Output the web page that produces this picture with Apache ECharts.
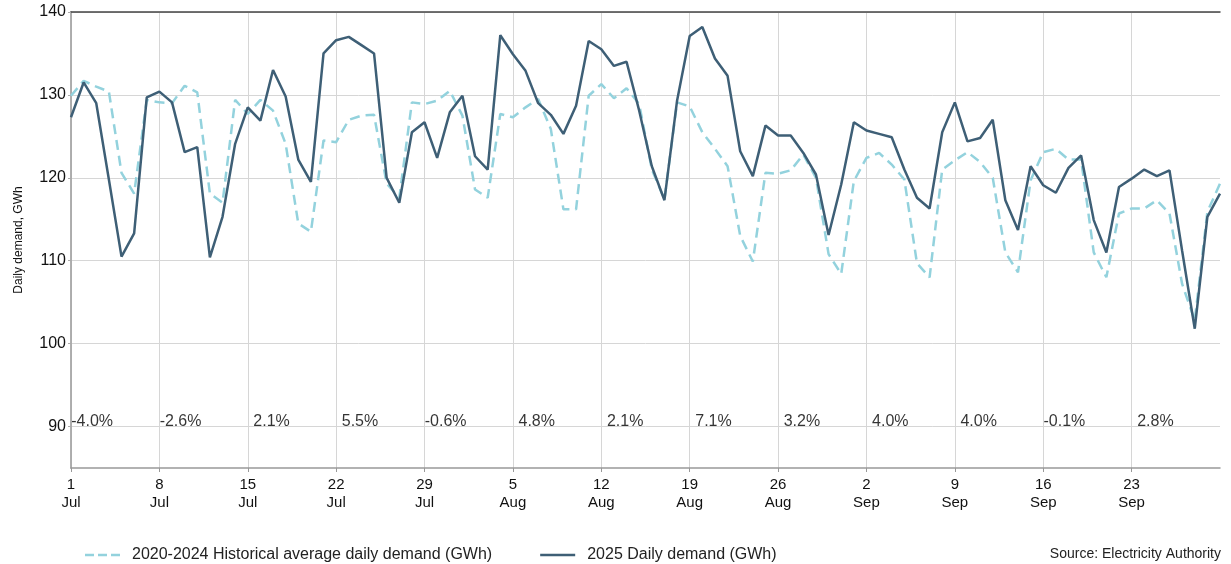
<!DOCTYPE html>
<html>
<head>
<meta charset="utf-8">
<script src="https://cdn.jsdelivr.net/npm/echarts@6/dist/echarts.min.js"></script>
<style>
  html, body { margin: 0; padding: 0; background: #fff; }
  #chart { width: 1231px; height: 564px; }
</style>
</head>
<body>
<div id="chart"></div>
<script>
// daily values, 1 Jul .. 30 Sep (index = day offset from 1 Jul)
var histAvg = [
  129.9, 131.7, 131.0, 130.4, 120.6, 118.1, 129.4, 129.1, 129.0, 131.1,
  130.3, 118.1, 117.0, 129.4, 127.7, 129.4, 128.1, 124.1, 114.5, 113.5,
  124.5, 124.3, 127.0, 127.5, 127.6, 119.3, 117.6, 129.1, 128.9, 129.3,
  130.5, 127.5, 118.6, 117.6, 127.7, 127.3, 128.5, 129.5, 125.9, 116.2,
  116.2, 129.9, 131.3, 129.6, 130.8, 128.9, 121.0, 117.4, 129.1, 128.6,
  125.5, 123.5, 121.4, 113.0, 109.9, 120.6, 120.5, 120.9, 122.8, 120.0,
  110.8, 108.4, 119.6, 122.4, 123.0, 121.6, 119.8, 109.7, 108.0, 121.0,
  122.1, 123.1, 121.9, 120.0, 111.0, 108.6, 119.7, 123.1, 123.5, 122.2,
  122.2, 111.0, 108.0, 115.7, 116.3, 116.3, 117.3, 115.7, 107.2, 102.8,
  115.9, 119.3
];
var demand2025 = [
  127.3, 131.5, 129.0, 119.8, 110.5, 113.3, 129.7, 130.4, 129.1, 123.1,
  123.7, 110.4, 115.3, 124.1, 128.5, 126.9, 133.0, 129.8, 122.2, 119.5,
  135.0, 136.6, 137.0, 136.0, 135.0, 120.0, 117.0, 125.5, 126.7, 122.4,
  127.9, 129.9, 122.6, 121.0, 137.2, 134.9, 132.9, 129.0, 127.6, 125.3,
  128.7, 136.5, 135.5, 133.5, 134.0, 128.1, 121.4, 117.3, 129.3, 137.1,
  138.2, 134.4, 132.3, 123.2, 120.2, 126.3, 125.1, 125.1, 123.0, 120.4,
  113.1, 119.2, 126.7, 125.7, 125.3, 124.9, 121.0, 117.6, 116.3, 125.5,
  129.1, 124.4, 124.8, 127.0, 117.3, 113.7, 121.4, 119.1, 118.2, 121.2,
  122.7, 114.9, 111.0, 118.9, 119.9, 121.0, 120.2, 120.9, 111.2, 101.8,
  115.3, 118.1
];
var weekStarts = [0, 7, 14, 21, 28, 35, 42, 49, 56, 63, 70, 77, 84];
var xTickLabels = ['1\nJul', '8\nJul', '15\nJul', '22\nJul', '29\nJul', '5\nAug', '12\nAug',
  '19\nAug', '26\nAug', '2\nSep', '9\nSep', '16\nSep', '23\nSep'];
var weekChange = ['-4.0%', '-2.6%', '2.1%', '5.5%', '-0.6%', '4.8%', '2.1%',
  '7.1%', '3.2%', '4.0%', '4.0%', '-0.1%', '2.8%'];
var yTicks = [90, 100, 110, 120, 130, 140];

var FONT = "'Liberation Sans', Arial, Helvetica, sans-serif";
var HIST_COLOR = '#93d2dd';
var CUR_COLOR = '#3e5f76';

var chart = echarts.init(document.getElementById('chart'));
var option = {
  backgroundColor: '#fff',
  animation: false,
  textStyle: { fontFamily: FONT },
  grid: { left: 71, right: 11, top: 12, bottom: 96 },
  legend: {
    left: 85,
    top: 547,
    padding: 0,
    itemWidth: 35,
    itemHeight: 3,
    itemGap: 48,
    textStyle: { fontSize: 16, color: '#222', fontFamily: FONT, padding: [0, 0, 0, 7] },
    data: [
      // dashed / solid line samples, like the reference key
      { name: '2020-2024 Historical average daily demand (GWh)', icon: 'path://M0,0h9v2.5h-9z M13,0h9v2.5h-9z M26,0h9v2.5h-9z', itemStyle: { color: HIST_COLOR } },
      { name: '2025 Daily demand (GWh)', icon: 'path://M0,0h35v2.5h-35z', itemStyle: { color: CUR_COLOR } }
    ]
  },
  graphic: [{
    type: 'text',
    right: 10,
    top: 547,
    style: { text: 'Source: Electricity Authority', font: '14px ' + FONT, fill: '#222' }
  }],
  xAxis: [{
    type: 'value',
    min: 0,
    max: 91,
    axisLine: { show: true, lineStyle: { color: '#999', width: 1.5 } },
    axisTick: { show: true, length: 4, customValues: weekStarts, lineStyle: { color: '#999' } },
    axisLabel: {
      customValues: weekStarts,
      color: '#111',
      fontSize: 15,
      lineHeight: 18,
      margin: 8,
      fontFamily: FONT,
      formatter: function (v) { return xTickLabels[weekStarts.indexOf(v)]; }
    },
    splitLine: { show: true, lineStyle: { color: '#d6d6d6', width: 1 } }
  }, {
    type: 'value',
    position: 'top',
    min: 0,
    max: 91,
    axisLine: { show: true, lineStyle: { color: '#444', width: 1.5 } },
    axisTick: { show: false },
    axisLabel: { show: false },
    splitLine: { show: false }
  }],
  yAxis: [{
    type: 'value',
    min: 85,
    max: 140,
    name: 'Daily demand, GWh',
    nameLocation: 'middle',
    nameGap: 46,
    nameTextStyle: { fontSize: 12, color: '#111', fontFamily: FONT },
    axisLine: { show: true, lineStyle: { color: '#aaa', width: 1.5 } },
    axisTick: { show: true, length: 3, customValues: yTicks, lineStyle: { color: '#aaa' } },
    axisLabel: { customValues: yTicks, color: '#111', fontSize: 16, margin: 5, fontFamily: FONT },
    splitLine: { show: true, lineStyle: { color: '#d6d6d6', width: 1 } }
  }, {
    type: 'value',
    position: 'right',
    min: 85,
    max: 140,
    axisLine: { show: true, lineStyle: { color: '#aaa', width: 1.5 } },
    axisTick: { show: false },
    axisLabel: { show: false },
    splitLine: { show: false }
  }],
  series: [{
    name: '2020-2024 Historical average daily demand (GWh)',
    type: 'line',
    symbol: 'none',
    data: histAvg.map(function (v, i) { return [i, v]; }),
    lineStyle: { color: HIST_COLOR, width: 2.5, type: [10, 6] },
    itemStyle: { color: HIST_COLOR },
    z: 3
  }, {
    name: '2025 Daily demand (GWh)',
    type: 'line',
    symbol: 'none',
    data: demand2025.map(function (v, i) { return [i, v]; }),
    lineStyle: { color: CUR_COLOR, width: 2.5 },
    itemStyle: { color: CUR_COLOR },
    z: 4
  }, {
    // weekly change labels, right aligned just past each week start
    type: 'scatter',
    symbolSize: 0,
    silent: true,
    data: weekStarts.map(function (d) { return [d + 3.33, 90.6]; }),
    label: {
      show: true,
      position: [0, 0],
      align: 'right',
      verticalAlign: 'middle',
      fontSize: 16,
      color: '#000',
      fontFamily: FONT,
      formatter: function (p) { return weekChange[p.dataIndex]; }
    },
    z: 5
  }]
};
chart.setOption(option);
</script>
</body>
</html>
